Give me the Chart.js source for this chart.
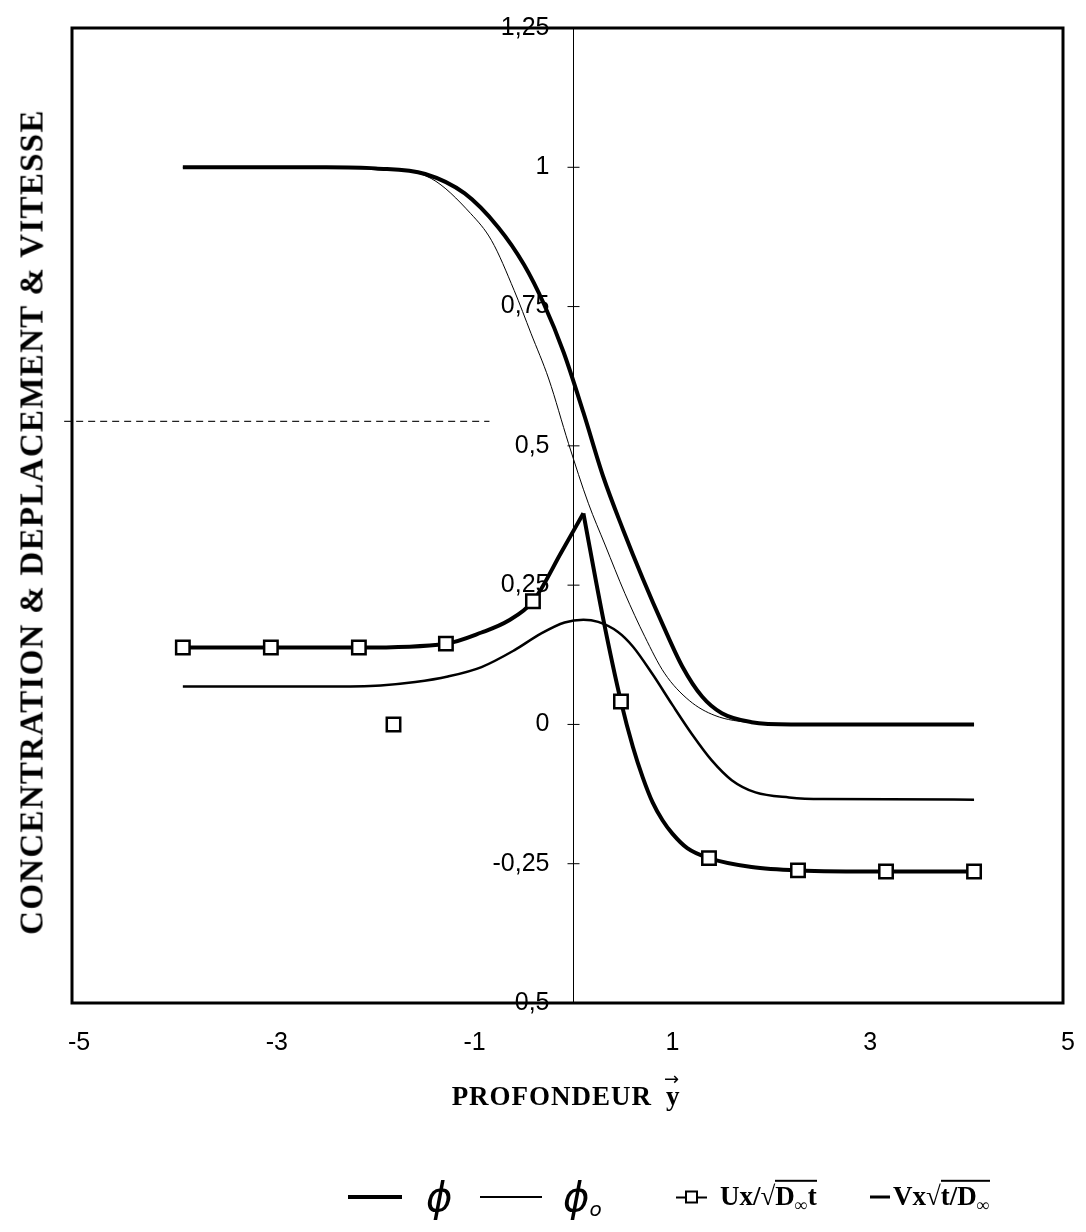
<!DOCTYPE html>
<html>
<head>
<meta charset="utf-8">
<script src="https://cdn.jsdelivr.net/npm/chart.js@4.4.1/dist/chart.umd.min.js"></script>
<style>
  html, body { margin: 0; padding: 0; background: #fff; }
  #wrap { position: relative; width: 1086px; height: 1232px; overflow: hidden; }
  #chart { position: absolute; left: 0; top: 0; }
  .ytitle {
    position: absolute; left: 32px; top: 522px; white-space: nowrap;
    transform: translate(-50%, -50%) rotate(-90deg);
    font: bold 33px "Liberation Serif", serif; letter-spacing: 1.3px; color: #000;
  }
  .xtitle {
    position: absolute; left: 566px; top: 1096px; white-space: nowrap;
    transform: translate(-50%, -50%);
    font: bold 27px "Liberation Serif", serif; letter-spacing: 1px; color: #000;
  }
  .vec { position: relative; display: inline-block; margin-left: 6px; }
  .vec .arr { position: absolute; left: -2px; top: -13px; font: normal 18px "DejaVu Sans", sans-serif; }
  .lg { position: absolute; top: 1197px; transform: translateY(-50%); white-space: nowrap; color: #000; }
  .ln { display: block; border-top: 4px solid #000; }
  .phi { font: italic 40px "DejaVu Sans", sans-serif; }
  .phi sub { font-size: 20px; vertical-align: -5px; }
  .mk { display: flex; align-items: center; }
  .mk i { display: inline-block; width: 9px; border-top: 2px solid #000; }
  .mk b { display: inline-block; width: 9px; height: 9px; border: 2px solid #000; }
  .tx { font: bold 27px "Liberation Serif", serif; }
  .tx sub { font-size: 18px; }
  .ov { display: inline-block; border-top: 2px solid #000; line-height: 1; padding-top: 1px; }
</style>
</head>
<body>
<div id="wrap">
  <canvas id="chart" width="1086" height="1232"></canvas>
  <div class="ytitle">CONCENTRATION &amp; DEPLACEMENT &amp; VITESSE</div>
  <div class="xtitle">PROFONDEUR <span class="vec">y<span class="arr">→</span></span></div>
  <span class="lg ln" style="left:348px;width:54px"></span>
  <span class="lg phi" style="left:426px">ϕ</span>
  <span class="lg ln" style="left:480px;width:62px;border-top-width:2px"></span>
  <span class="lg phi" style="left:563px">ϕ<sub>o</sub></span>
  <span class="lg mk" style="left:676px"><i></i><b></b><i></i></span>
  <span class="lg tx" style="left:720px">Ux/√<span class="ov">D<sub>∞</sub>t</span></span>
  <span class="lg ln" style="left:870px;width:20px;border-top-width:3px"></span>
  <span class="lg tx" style="left:893px">Vx√<span class="ov">t/D<sub>∞</sub></span></span>
</div>
<script>
// axis ticks
var xTickValues = [-5, -3, -1, 1, 3, 5];
var yTickValues = [-0.5, -0.25, 0, 0.25, 0.5, 0.75, 1, 1.25];

// phi (thick)
var phiX = [-3.95, -2.5, -2.0, -1.5, -1.1, -0.76, -0.5, -0.3, -0.1, 0.1, 0.3, 0.5, 0.7, 0.9, 1.1, 1.3, 1.5, 1.8, 2.2, 4.05];
var phiY = [1.0, 1.0, 0.998, 0.988, 0.953, 0.892, 0.825, 0.755, 0.668, 0.56, 0.445, 0.35, 0.262, 0.18, 0.104, 0.05, 0.02, 0.004, 0, 0];

// phi0 (thin)
var phi0X = [-3.95, -2.5, -1.96, -1.44, -1.04, -0.83, -0.6, -0.43, -0.25, -0.05, 0.15, 0.32, 0.52, 0.72, 0.92, 1.17, 1.43, 1.8, 2.2, 4.05];
var phi0Y = [1.0, 1.0, 0.998, 0.98, 0.917, 0.869, 0.779, 0.702, 0.62, 0.504, 0.397, 0.322, 0.235, 0.158, 0.092, 0.043, 0.016, 0.003, 0, 0];

// Ux / sqrt(D t) line, cusp at index uCusp
var uX = [-3.95, -3.06, -2.17, -1.29, -0.93, -0.66, -0.41, -0.12, 0.1, 0.3, 0.48, 0.6, 0.7, 0.8, 0.9, 1.0, 1.15, 1.37, 1.8, 2.27, 3.16, 4.05];
var uY = [0.138, 0.138, 0.138, 0.145, 0.165, 0.186, 0.221, 0.31, 0.379, 0.19, 0.041, -0.04, -0.095, -0.14, -0.172, -0.196, -0.222, -0.24, -0.256, -0.262, -0.264, -0.264];
var uCusp = 8;

// Ux markers
var uMarkX = [-3.95, -3.06, -2.17, -1.29, -0.41, 0.48, 1.37, 2.27, 3.16, 4.05];
var uMarkY = [0.138, 0.138, 0.138, 0.145, 0.221, 0.041, -0.24, -0.262, -0.264, -0.264];
var strayX = [-1.82];
var strayY = [0];

// Vx * sqrt(t / D)
var vX = [-3.95, -2.5, -1.95, -1.6, -1.27, -0.93, -0.6, -0.33, -0.09, 0.1, 0.25, 0.45, 0.6, 0.8, 1.0, 1.2, 1.4, 1.6, 1.84, 2.18, 2.52, 4.05];
var vY = [0.068, 0.068, 0.07, 0.076, 0.086, 0.103, 0.133, 0.163, 0.183, 0.188, 0.184, 0.166, 0.14, 0.09, 0.035, -0.018, -0.065, -0.1, -0.122, -0.131, -0.134, -0.135];

// faint dashed scan line
var dashX = [-5.15, -0.85];
var dashY = [0.544, 0.544];

function pts(xs, ys) {
    return xs.map((x, i) => ({x: x, y: ys[i]}));
}

function fmt(v) {
    return String(v).replace('.', ',');
}

var lineBase = {showLine: true, pointRadius: 0, borderColor: '#000', cubicInterpolationMode: 'monotone', fill: false};
var markBase = {pointStyle: 'rect', pointRadius: 9.5, borderWidth: 2.5, borderColor: '#000', backgroundColor: '#fff'};

// plot frame, cross ticks and y labels along the x = 0 axis
var frame = {
    id: 'frame',
    afterDatasetsDraw(chart) {
        var c = chart.ctx, a = chart.chartArea;
        var y = chart.scales.y, x0 = chart.scales.x.getPixelForValue(0);
        c.save();
        c.strokeStyle = '#000';
        c.lineWidth = 3;
        c.strokeRect(a.left - 7, a.top, a.right - a.left + 2, a.bottom - a.top);
        c.lineWidth = 1;
        c.fillStyle = '#000';
        c.font = '25px "Liberation Sans"';
        c.textAlign = 'right';
        c.textBaseline = 'middle';
        yTickValues.forEach(v => {
            var py = y.getPixelForValue(v);
            c.beginPath();
            c.moveTo(x0 - 6, py);
            c.lineTo(x0 + 6, py);
            c.stroke();
            c.fillText(fmt(v), x0 - 24, py);
        });
        c.restore();
    }
};

var ctx = document.getElementById('chart').getContext('2d');
var chart = new Chart(ctx, {
    type: 'scatter',
    data: {
        datasets: [
            Object.assign({data: pts(uMarkX, uMarkY)}, markBase),
            Object.assign({data: pts(strayX, strayY)}, markBase),
            Object.assign({}, lineBase, {data: pts(uX.slice(0, uCusp + 1), uY.slice(0, uCusp + 1)), borderWidth: 4}),
            Object.assign({}, lineBase, {data: pts(uX.slice(uCusp), uY.slice(uCusp)), borderWidth: 4}),
            Object.assign({}, lineBase, {data: pts(phiX, phiY), borderWidth: 4}),
            Object.assign({}, lineBase, {data: pts(phi0X, phi0Y), borderWidth: 1}),
            Object.assign({}, lineBase, {data: pts(vX, vY), borderWidth: 2.5}),
            Object.assign({}, lineBase, {data: pts(dashX, dashY), borderWidth: 1.2, borderDash: [7, 5], borderColor: '#222', clip: false})
        ]
    },
    options: {
        responsive: false,
        animation: false,
        layout: {padding: {left: 79, right: 18, top: 28, bottom: 0}},
        plugins: {legend: {display: false}, tooltip: {enabled: false}},
        scales: {
            x: {
                type: 'linear', min: -5, max: 5,
                afterBuildTicks: s => { s.ticks = xTickValues.map(v => ({value: v})); },
                afterFit: s => { s.height = 229; s.paddingLeft = 0; s.paddingRight = 0; },
                grid: {display: false},
                border: {display: false},
                ticks: {color: '#000', padding: 17, font: {family: 'Liberation Sans', size: 25}}
            },
            y: {
                type: 'linear', min: -0.5, max: 1.25,
                position: {x: 0},
                afterBuildTicks: s => { s.ticks = yTickValues.map(v => ({value: v})); },
                grid: {display: true, drawOnChartArea: false, drawTicks: false},
                border: {display: true, color: '#000', width: 1},
                ticks: {display: false}
            }
        }
    },
    plugins: [frame]
});
</script>
</body>
</html>
